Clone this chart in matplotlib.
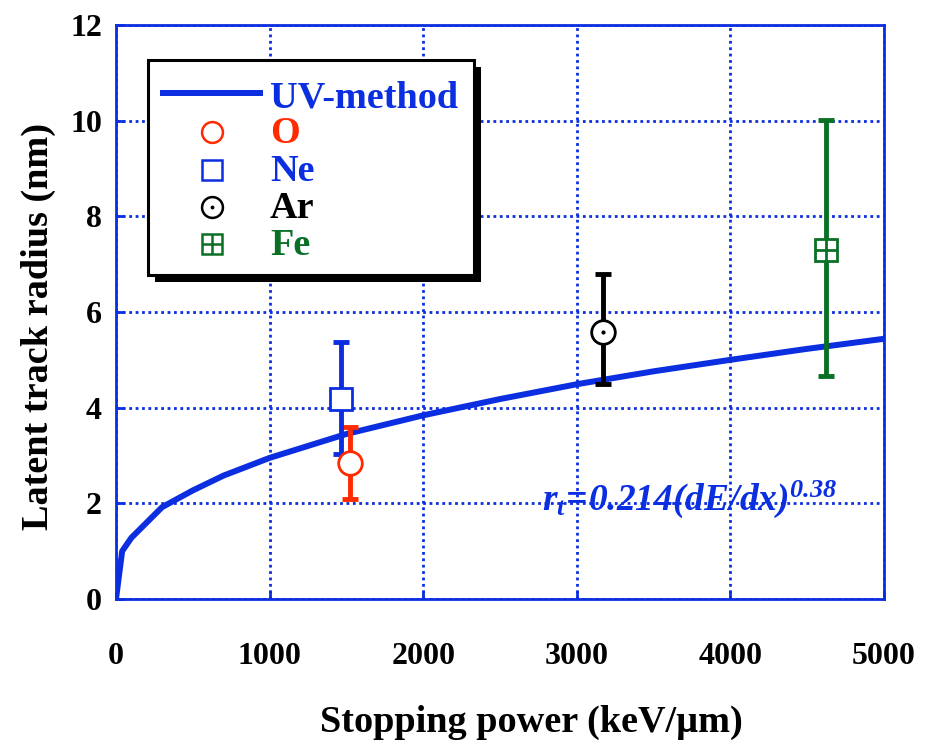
import matplotlib
matplotlib.use("Agg")
import matplotlib.pyplot as plt
from matplotlib.patches import Rectangle

plt.rcParams['font.family'] = ['Liberation Serif', 'DejaVu Serif']
plt.rcParams['font.weight'] = 'bold'
plt.rcParams['mathtext.fontset'] = 'custom'
plt.rcParams['mathtext.it'] = 'Liberation Serif:bold:italic'
plt.rcParams['mathtext.rm'] = 'Liberation Serif:bold:italic'
plt.rcParams['mathtext.bf'] = 'Liberation Serif:bold:italic'

# UV-method fitted curve
uv_x = [0, 40, 100, 200, 300, 500, 700, 1000, 1500, 2000, 2500, 3000, 3500, 4000, 4500, 5000]
uv_y = [0, 1.0, 1.28, 1.60, 1.92, 2.27, 2.58, 2.95, 3.45, 3.84, 4.18, 4.49, 4.76, 5.00, 5.23, 5.44]

ions = ['O', 'Ne', 'Ar', 'Fe']
ion_x = [1523, 1465, 3170, 4622]
ion_y = [2.85, 4.18, 5.59, 7.30]
err_low = [2.09, 3.03, 4.50, 4.67]
err_high = [3.60, 5.38, 6.80, 10.02]

xticks = [0, 1000, 2000, 3000, 4000, 5000]
yticks = [0, 2, 4, 6, 8, 10, 12]

blue = '#0a2ee0'
colors = ['#ff2a00', blue, 'black', '#0a7025']
markers = ['o', 's', 'o', 's']

W, H = 926, 749
fig = plt.figure(figsize=(W / 100, H / 100), dpi=100)
AX_L, AX_R, AX_T, AX_B = 116, 884, 25, 599
ax = fig.add_axes([AX_L / W, 1 - AX_B / H, (AX_R - AX_L) / W, (AX_B - AX_T) / H])


def axc(px, py):
    return (px - AX_L) / (AX_R - AX_L), (AX_B - py) / (AX_B - AX_T)


ax.plot(uv_x, uv_y, color=blue, lw=4.3, solid_joinstyle='round', zorder=3)

for i in range(4):
    y = ion_y[i]
    ax.errorbar([ion_x[i]], [y], yerr=[[y - err_low[i]], [err_high[i] - y]],
                fmt='none', ecolor=colors[i], elinewidth=3.5, capsize=6, capthick=3.5, zorder=4)
    ax.plot([ion_x[i]], [y], marker=markers[i], ms=17 if markers[i] == 'o' else 16,
            mfc='white', mec=colors[i], mew=2, ls='none', zorder=5)
    if ions[i] == 'Ar':
        ax.plot([ion_x[i]], [y], marker='.', ms=4, color='black', ls='none', zorder=6)
    if ions[i] == 'Fe':
        ax.plot([ion_x[i]], [y], marker='+', ms=16, mew=2, color=colors[i], ls='none', zorder=6)

ax.set_xlim(0, 5000)
ax.set_ylim(0, 12)
ax.set_xticks(xticks)
ax.set_yticks(yticks)
ax.grid(True, color=blue, ls=(0, (1, 1.3)), lw=2)
ax.set_axisbelow(True)
for s in ax.spines.values():
    s.set_color(blue)
    s.set_linewidth(2)
ax.tick_params(direction='in', length=6, width=2, color=blue, labelsize=23)
ax.tick_params(axis='x', pad=31)
ax.tick_params(axis='y', pad=10)
for lab in ax.get_xticklabels() + ax.get_yticklabels():
    lab.set_fontweight('bold')

ax.set_xlabel('Stopping power (keV/µm)', fontsize=27.5, fontweight='bold', labelpad=24)
ax.set_ylabel('Latent track radius (nm)', fontsize=27.5, fontweight='bold', labelpad=10)
ax.xaxis.label.set_x(axc(531, 0)[0])
ax.yaxis.label.set_y(axc(0, 327)[1])

fx, fy = axc(542, 510)
ax.text(fx, fy, r'$r_t\!=\!0.214(dE/dx)^{0.38}$', transform=ax.transAxes,
        color=blue, fontsize=27, va='baseline', zorder=7)

# manual legend with drop shadow
bx0, by1 = axc(148, 60)
bx1, by0 = axc(474, 275)
sx, sy = 7 / (AX_R - AX_L), 7 / (AX_B - AX_T)
ax.add_patch(Rectangle((bx0 + sx, by0 - sy), bx1 - bx0, by1 - by0, transform=ax.transAxes,
                       facecolor='black', edgecolor='black', lw=0, zorder=8, clip_on=False))
ax.add_patch(Rectangle((bx0, by0), bx1 - bx0, by1 - by0, transform=ax.transAxes,
                       facecolor='white', edgecolor='black', lw=2.2, zorder=9, clip_on=False))

lx0, ly = axc(163, 93)
lx1, _ = axc(260, 93)
ax.plot([lx0, lx1], [ly, ly], color=blue, lw=4.3, transform=ax.transAxes, zorder=10, clip_on=False)
tx, tyb = axc(270, 107)
ax.text(tx, tyb, 'UV-method', color=blue, fontsize=27.5, fontweight='bold',
        transform=ax.transAxes, va='baseline', zorder=10)

mk_y = [132, 170, 207, 244]
txt_y = [143, 181, 218, 255]
for i in range(4):
    mx, my = axc(212, mk_y[i])
    ax.plot([mx], [my], marker=markers[i], ms=15 if markers[i] == 'o' else 14,
            mfc='white', mec=colors[i], mew=1.8, ls='none', transform=ax.transAxes,
            zorder=10, clip_on=False)
    if ions[i] == 'Ar':
        ax.plot([mx], [my], marker='.', ms=3.5, color='black', ls='none',
                transform=ax.transAxes, zorder=11, clip_on=False)
    if ions[i] == 'Fe':
        ax.plot([mx], [my], marker='+', ms=14, mew=1.8, color=colors[i], ls='none',
                transform=ax.transAxes, zorder=11, clip_on=False)
    tx, tyb = axc(270, txt_y[i])
    ax.text(tx, tyb, ions[i], color=colors[i], fontsize=27.5, fontweight='bold',
            transform=ax.transAxes, va='baseline', zorder=10)

fig.savefig('out.png', dpi=100)
